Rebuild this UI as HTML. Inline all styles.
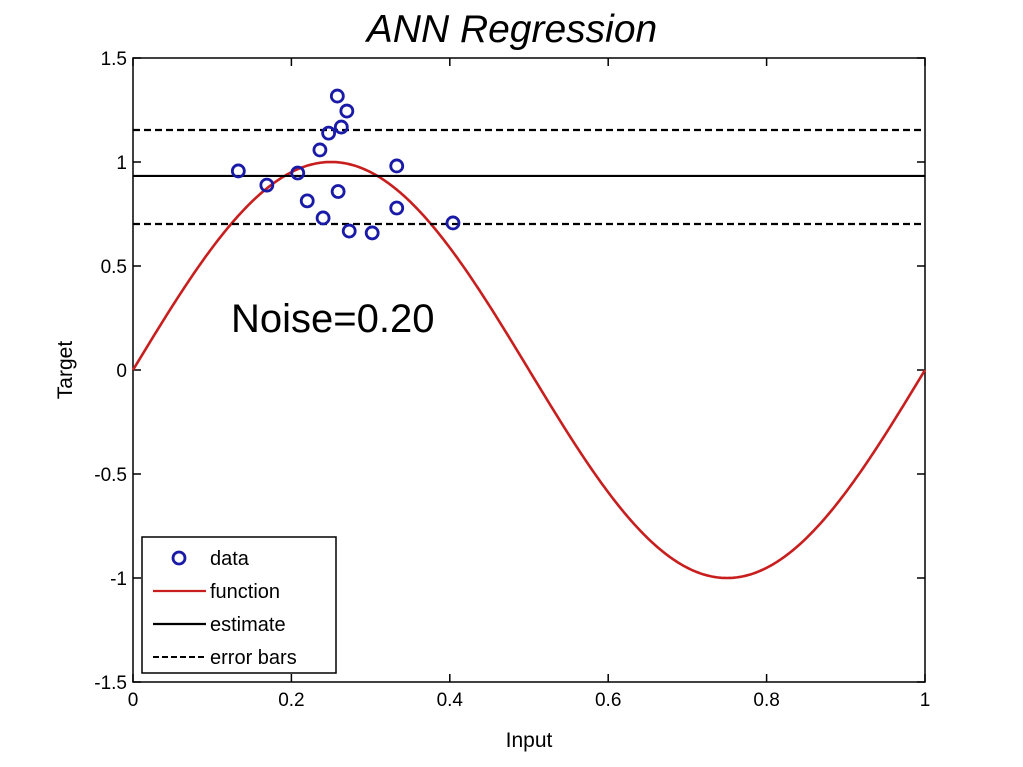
<!DOCTYPE html>
<html><head><meta charset="utf-8"><style>
html,body{margin:0;padding:0;background:#fff;}
svg{display:block;font-family:"Liberation Sans",Arial,sans-serif;}
</style></head><body>
<svg id="chart" width="1023" height="767" viewBox="0 0 1023 767">
<text x="512" y="42" text-anchor="middle" font-size="39" font-style="italic">ANN Regression</text>
<text x="529" y="747" text-anchor="middle" font-size="21">Input</text>
<text transform="translate(72,370) rotate(-90)" text-anchor="middle" font-size="21">Target</text>
<g id="plot"></g>
<text x="231" y="332" font-size="40">Noise=0.20</text>
</svg>
<script>
const dataX=[0.133,0.169,0.208,0.220,0.236,0.240,0.247,0.258,0.263,0.259,0.270,0.273,0.302,0.333,0.333,0.404];
const dataY=[0.957,0.889,0.947,0.813,1.058,0.731,1.139,1.317,1.168,0.858,1.245,0.668,0.659,0.981,0.779,0.707];
const estimate=[0.933];
const errorBars=[1.154,0.702];
const xTicks=[0,0.2,0.4,0.6,0.8,1];
const xTickLabels=["0","0.2","0.4","0.6","0.8","1"];
const yTicks=[-1.5,-1,-0.5,0,0.5,1,1.5];
const yTickLabels=["-1.5","-1","-0.5","0","0.5","1","1.5"];

const L=133,R=925,T=58,B=682;
const sx=v=>L+(v-0)/(1-0)*(R-L);
const sy=v=>B-(v+1.5)/3*(B-T);
const NS="http://www.w3.org/2000/svg";
const g=document.getElementById('plot');
function mk(tag,attrs){const e=document.createElementNS(NS,tag);for(const k in attrs)e.setAttribute(k,attrs[k]);g.appendChild(e);return e;}

let fr=mk('rect',{x:L,y:T,width:R-L,height:B-T,fill:'none',stroke:'#000','stroke-width':1.5});



xTicks.forEach((t,i)=>{
  const x=sx(t);
  mk('line',{x1:x,y1:B,x2:x,y2:B-8,stroke:'#000','stroke-width':1.5});
  mk('line',{x1:x,y1:T,x2:x,y2:T+8,stroke:'#000','stroke-width':1.5});
  const tx=mk('text',{x:x,y:B+24,'text-anchor':'middle','font-size':19});
  tx.textContent=xTickLabels[i];
  
  
});
yTicks.forEach((t,i)=>{
  const y=sy(t);
  mk('line',{x1:L,y1:y,x2:L+8,y2:y,stroke:'#000','stroke-width':1.5});
  mk('line',{x1:R,y1:y,x2:R-8,y2:y,stroke:'#000','stroke-width':1.5});
  const tx=mk('text',{x:L-6,y:y+7,'text-anchor':'end','font-size':19});
  tx.textContent=yTickLabels[i];
  
  
});

let d='';
for(let i=0;i<=400;i++){const x=i/400;d+=(i?'L':'M')+sx(x).toFixed(2)+','+sy(Math.sin(2*Math.PI*x)).toFixed(2);}
let fc=mk('path',{d:d,fill:'none',stroke:'#c81e1e','stroke-width':2.6});



let el=mk('line',{x1:L,x2:R,y1:sy(estimate[0]),y2:sy(estimate[0]),stroke:'#000','stroke-width':2.2});


errorBars.forEach(v=>{
  let e=mk('line',{x1:L,x2:R,y1:sy(v),y2:sy(v),stroke:'#000','stroke-width':2.2,'stroke-dasharray':'7,4'});
  
  
});

dataX.forEach((x,i)=>{
  let c=mk('circle',{cx:sx(x),cy:sy(dataY[i]),r:6,fill:'none',stroke:'#1a1aa8','stroke-width':2.8});
  
  
});

let lg=mk('rect',{x:142,y:537,width:194,height:136,fill:'#fff',stroke:'#000','stroke-width':1.5});


const items=[['data',null],['function','#c81e1e'],['estimate','#000'],['error bars','dash']];
items.forEach((it,i)=>{
  const y=558+i*33;
  if(it[1]===null){mk('circle',{cx:179,cy:y,r:6,fill:'none',stroke:'#1a1aa8','stroke-width':2.8});}
  else if(it[1]==='dash'){mk('line',{x1:153,x2:206,y1:y,y2:y,stroke:'#000','stroke-width':2,'stroke-dasharray':'6,3'});}
  else mk('line',{x1:153,x2:206,y1:y,y2:y,stroke:it[1],'stroke-width':2.2});
  const t=mk('text',{x:210,y:y+7,'font-size':20});
  t.textContent=it[0];
  
  
});
</script>
</body></html>
